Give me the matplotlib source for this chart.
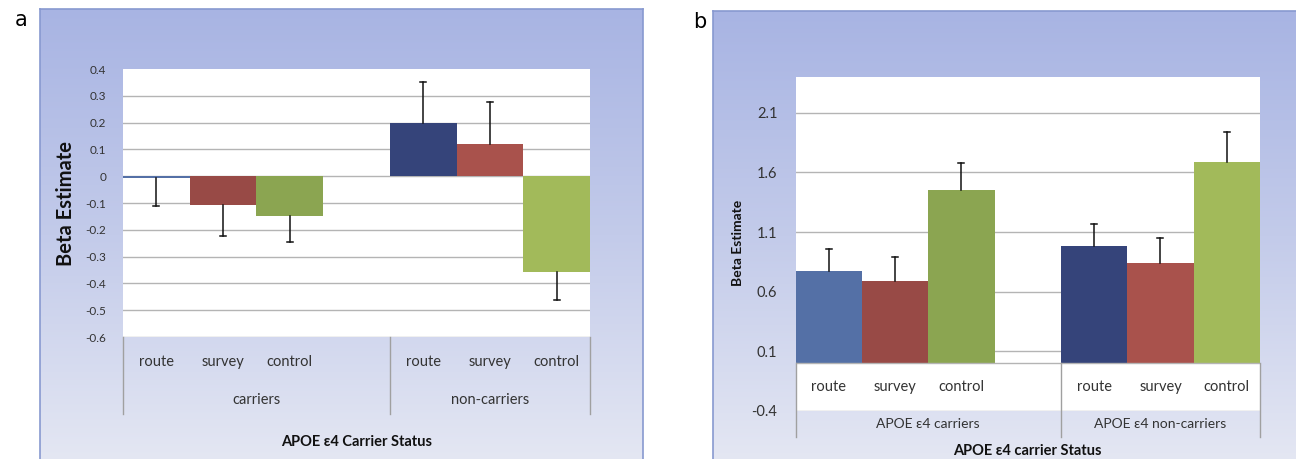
import numpy as np
import matplotlib
matplotlib.use('Agg')
import matplotlib.pyplot as plt
from matplotlib.colors import LinearSegmentedColormap

plt.rcParams['font.family'] = ['Lato', 'DejaVu Sans']

# data
conditions = ['route', 'survey', 'control']
groups_a = ['carriers', 'non-carriers']
groups_b = ['APOE ε4 carriers', 'APOE ε4 non-carriers']

beta_a = [[-0.008, -0.108, -0.150], [0.199, 0.119, -0.358]]
err_a = [[0.102, 0.116, 0.094], [0.154, 0.158, 0.105]]

beta_b = [[0.77, 0.69, 1.455], [0.98, 0.842, 1.69]]
err_b = [[0.185, 0.20, 0.22], [0.184, 0.205, 0.25]]

yticks_a = [0.4, 0.3, 0.2, 0.1, 0, -0.1, -0.2, -0.3, -0.4, -0.5, -0.6]
yticks_b = [-0.4, 0.1, 0.6, 1.1, 1.6, 2.1]

colors = [['#5470A6', '#984A46', '#8BA551'], ['#35447A', '#A9524C', '#A2BA5A']]

W, H = 1296, 459
fig = plt.figure(figsize=(W / 100, H / 100), dpi=100)
grad = LinearSegmentedColormap.from_list('g', ['#A8B4E3', '#C3CBEA', '#E4E7F3'])


def px(x0, y0, x1, y1):
    # pixel box -> figure fraction
    return [x0 / W, 1 - y1 / H, (x1 - x0) / W, (y1 - y0) / H]


def background(box):
    bg = fig.add_axes(px(*box), zorder=0)
    bg.imshow(np.linspace(0, 1, 200).reshape(-1, 1), cmap=grad, aspect='auto',
              extent=[0, 1, 0, 1])
    bg.set_xticks([])
    bg.set_yticks([])
    for s in bg.spines.values():
        s.set_color('#8899D0')
        s.set_linewidth(1.2)


background((40, 9, 643, 462))
background((713, 11, 1299, 462))

fig.text(15 / W, 1 - 20 / H, 'a', fontsize=15, family='DejaVu Sans', va='center', ha='left')
fig.text(693 / W, 1 - 22 / H, 'b', fontsize=15, family='DejaVu Sans', va='center', ha='left')

grid_c = '#B4B4B4'
txt_c = '#333333'


def draw_bars(ax, beta, err):
    for g in range(2):
        off = 0 if g == 0 else 4
        for i in range(3):
            x = off + i + 0.5
            v = beta[g][i]
            ax.bar(x, v, width=1.0, color=colors[g][i], zorder=3)
            e = err[g][i]
            end = v + e if v >= 0 else v - e
            ax.plot([x, x], [v, end], color='#111111', lw=1.1, zorder=4)
            ax.plot([x - 0.045, x + 0.045], [end, end], color='#111111', lw=1.1, zorder=4)


# ---- panel a ----
ax = fig.add_axes(px(123, 69, 590, 337), zorder=1)
ax.set_facecolor('none')
ax.add_patch(plt.Rectangle((0, -0.6), 7, 1.0, color='white', zorder=0))
ax.set_xlim(0, 7)
ax.set_ylim(-0.6, 0.4)
for t in yticks_a:
    if t < 0.4:
        ax.axhline(t, color=grid_c, lw=1, zorder=1)
draw_bars(ax, beta_a, err_a)
ax.set_yticks(yticks_a)
ax.set_yticklabels([('%g' % t) for t in yticks_a], fontsize=8.5, color=txt_c)
ax.tick_params(axis='y', length=0, pad=12)
ax.set_xticks([])
for s in ax.spines.values():
    s.set_visible(False)
for g in range(2):
    off = 0 if g == 0 else 4
    for i, c in enumerate(conditions):
        ax.text(off + i + 0.5, -0.093, c, transform=ax.get_xaxis_transform(),
                ha='center', va='center', fontsize=10.5, color=txt_c)
ax.text(2.0, -0.235, groups_a[0], transform=ax.get_xaxis_transform(),
        ha='center', va='center', fontsize=10.5, color=txt_c)
ax.text(5.5, -0.235, groups_a[1], transform=ax.get_xaxis_transform(),
        ha='center', va='center', fontsize=10.5, color=txt_c)
for xs in [0, 4, 7]:
    ax.plot([xs, xs], [0, -0.287], transform=ax.get_xaxis_transform(),
            color='#A0A0A0', lw=1, clip_on=False)
ax.text(3.5, -0.39, 'APOE ε4 Carrier Status', transform=ax.get_xaxis_transform(),
        ha='center', va='center', fontsize=10.5, fontweight='bold', color='#111111')
ax.text(-0.122, 0.5, 'Beta Estimate', transform=ax.transAxes, rotation=90,
        ha='center', va='center', fontsize=14.5, fontweight='bold', color='#111111')

# ---- panel b ----
bx = fig.add_axes(px(795.5, 77, 1260, 411), zorder=1)
bx.set_facecolor('white')
bx.set_xlim(0, 7)
bx.set_ylim(-0.4, 2.4)
for t in yticks_b:
    bx.axhline(t, color=grid_c, lw=1, zorder=1)
bx.axhline(0, color=grid_c, lw=1, zorder=5)
draw_bars(bx, beta_b, err_b)
bx.set_yticks(yticks_b)
bx.set_yticklabels([('%g' % t) for t in yticks_b], fontsize=10.5, color=txt_c)
bx.tick_params(axis='y', length=0, pad=13)
bx.set_xticks([])
for s in bx.spines.values():
    s.set_visible(False)
for g in range(2):
    off = 0 if g == 0 else 4
    for i, c in enumerate(conditions):
        bx.text(off + i + 0.5, -0.2, c, ha='center', va='center', fontsize=10.5, color=txt_c)
bx.text(2.0, -0.04, groups_b[0], transform=bx.get_xaxis_transform(),
        ha='center', va='center', fontsize=10, color=txt_c)
bx.text(5.5, -0.04, groups_b[1], transform=bx.get_xaxis_transform(),
        ha='center', va='center', fontsize=10, color=txt_c)
ymin_frac = -0.078
zero_frac = 0.4 / 2.8
for xs in [0, 4, 7]:
    bx.plot([xs, xs], [zero_frac, ymin_frac], transform=bx.get_xaxis_transform(),
            color='#A0A0A0', lw=1, clip_on=False, zorder=5)
bx.text(3.5, -0.12, 'APOE ε4 carrier Status', transform=bx.get_xaxis_transform(),
        ha='center', va='center', fontsize=10.5, fontweight='bold', color='#111111')
bx.text(-0.124, 0.503, 'Beta Estimate', transform=bx.transAxes, rotation=90,
        ha='center', va='center', fontsize=10, fontweight='bold', color='#111111')

fig.savefig('out.png', dpi=100)
